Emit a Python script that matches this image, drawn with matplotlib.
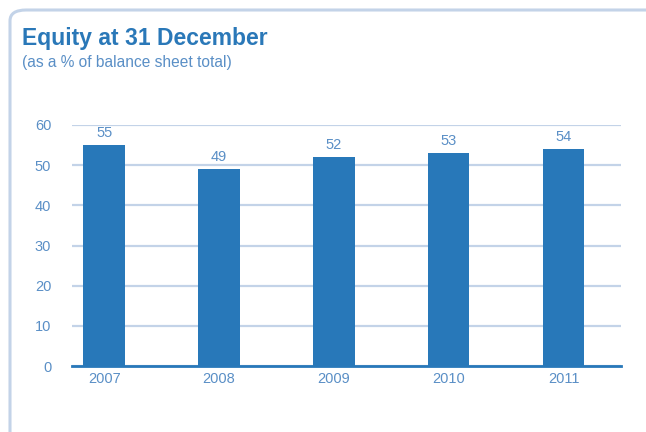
import matplotlib.pyplot as plt
from matplotlib.patches import FancyBboxPatch

years = ['2007', '2008', '2009', '2010', '2011']
equity_pct = [55, 49, 52, 53, 54]
y_ticks = [0, 10, 20, 30, 40, 50, 60]

bar_color = '#2878b9'
text_color = '#5a8fc6'
grid_color = '#c3d3e8'
title_color = '#2a78b8'

plt.rcParams['font.family'] = ['Liberation Sans', 'DejaVu Sans']

fig = plt.figure(figsize=(6.46, 4.32), dpi=100)

# rounded panel border, only its top and left edges show
frame = FancyBboxPatch((10 / 646, -0.2), 1.2, (432 - 10) / 432 + 0.2,
                       boxstyle='round,pad=0,rounding_size=0.025',
                       transform=fig.transFigure, facecolor='none',
                       edgecolor=grid_color, linewidth=2.2, clip_on=False)
fig.patches.append(frame)

fig.text(22 / 646, 1 - 45 / 432, 'Equity at 31 December', fontsize=16.5,
         fontweight='bold', color=title_color)
fig.text(22 / 646, 1 - 67 / 432, '(as a % of balance sheet total)',
         fontsize=11.2, color=text_color)

ax = fig.add_axes([72 / 646, 1 - 366 / 432, (621 - 72) / 646, (366 - 125) / 432])
x = range(len(years))
ax.bar(x, equity_pct, width=0.36, color=bar_color, zorder=3)
for xi, v in zip(x, equity_pct):
    ax.text(xi, v + 1.2, str(v), ha='center', va='bottom', fontsize=10.5,
            color=text_color)

ax.set_xlim(-0.28, 4.5)
ax.set_ylim(0, 60)
ax.set_yticks(y_ticks)
ax.set_xticks(list(x))
ax.set_xticklabels(years)
ax.yaxis.grid(True, color=grid_color, linewidth=1.6, zorder=0)
ax.set_axisbelow(True)
ax.tick_params(axis='both', length=0, labelsize=10.5, labelcolor=text_color)
ax.tick_params(axis='y', pad=15)
ax.tick_params(axis='x', pad=4)
for side in ['top', 'right', 'left']:
    ax.spines[side].set_visible(False)
ax.spines['bottom'].set_color(bar_color)
ax.spines['bottom'].set_linewidth(2)
ax.spines['bottom'].set_zorder(4)

fig.savefig('out.png', dpi=100)
